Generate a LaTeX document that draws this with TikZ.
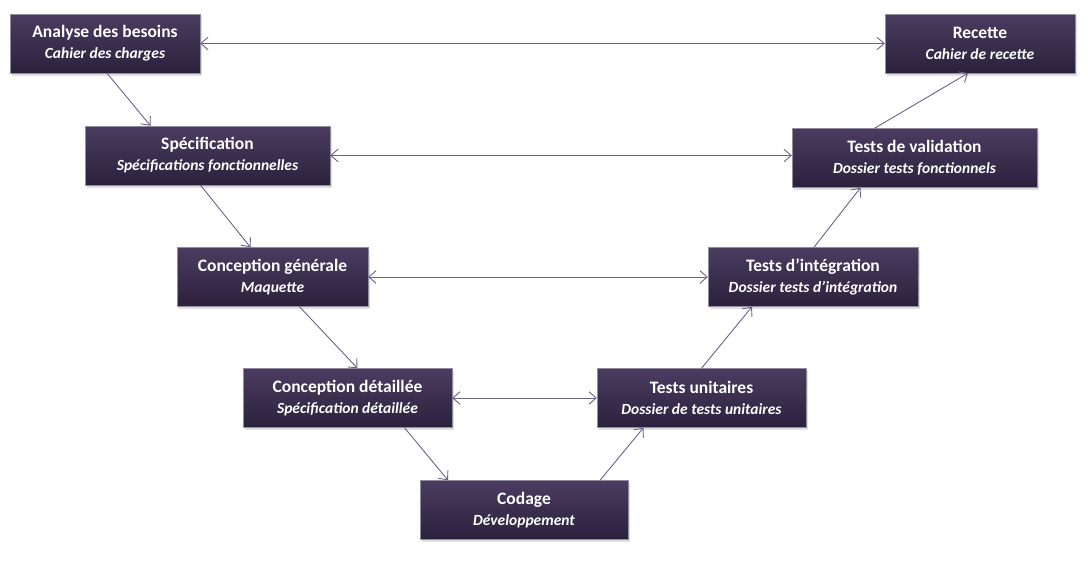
\documentclass[tikz,border=0pt]{standalone}
\usepackage{fontspec}
\setmainfont{Carlito}
\usetikzlibrary{arrows.meta,shadows}
\definecolor{plum}{HTML}{3A2D4E}
\definecolor{plumtop}{HTML}{4A3C60}
\definecolor{plumbot}{HTML}{2B213C}
\definecolor{wire}{HTML}{6B6288}

\newcommand{\phasedoc}[1]{{\fontsize{15.5}{18}\selectfont\bfseries\itshape #1}}

\begin{document}
\begin{tikzpicture}[
  x=1pt,y=-1pt,
  >={Straight Barb[length=2.5mm,width=4.4mm]},
  every node/.style={font=\fontsize{17.5}{21}\selectfont\bfseries,align=center,text=white},
  phase/.style={top color=plumtop,bottom color=plumbot,draw=plum!55!white,thin,minimum height=59pt,inner sep=3pt,drop shadow={shadow xshift=1.5pt,shadow yshift=-2.5pt,opacity=0.25}},
  link/.style={->,line width=0.9pt,wire}
]
  \useasboundingbox (0,0) rectangle (1088,562);

  % Left branch of the V: from needs down to coding.
  \node[phase,minimum width=190pt] (besoins) at (105,43.5) {Analyse des besoins\\\phasedoc{Cahier des charges}};
  \node[phase,minimum width=245pt] (specif) at (207.5,155.5) {Spécification\\\phasedoc{Spécifications fonctionnelles}};
  \node[phase,minimum width=191pt] (congen) at (272.5,277) {Conception générale\\\phasedoc{Maquette}};
  \node[phase,minimum width=209pt] (condet) at (347.5,398) {Conception détaillée\\\phasedoc{Spécification détaillée}};
  \node[phase,minimum width=208pt] (codage) at (524,510) {Codage\\\phasedoc{Développement}};

  % Right branch of the V: tests back up to acceptance.
  \node[phase,minimum width=209pt] (unit) at (701.5,398) {Tests unitaires\\\phasedoc{Dossier de tests unitaires}};
  \node[phase,minimum width=210pt] (integ) at (813,277) {Tests d’intégration\\\phasedoc{Dossier tests d’intégration}};
  \node[phase,minimum width=245pt] (valid) at (914.5,158) {Tests de validation\\\phasedoc{Dossier tests fonctionnels}};
  \node[phase,minimum width=190pt] (recette) at (980,43.5) {Recette\\\phasedoc{Cahier de recette}};

  % Descending and ascending links.
  \draw[link] ([xshift=2pt]besoins.south) -- ([xshift=-57pt]specif.north);
  \draw[link] ([xshift=-7pt]specif.south) -- ([xshift=-22pt]congen.north);
  \draw[link] ([xshift=27pt]congen.south) -- ([xshift=10pt]condet.north);
  \draw[link] ([xshift=57pt]condet.south) -- ([xshift=-76pt]codage.north);
  \draw[link] ([xshift=76pt]codage.north) -- ([xshift=-58pt]unit.south);
  \draw[link] (unit.north) -- ([xshift=-61pt]integ.south);
  \draw[link] ([xshift=1pt]integ.north) -- ([xshift=-54pt]valid.south);
  \draw[link] ([xshift=-40pt]valid.north) -- ([xshift=-12pt]recette.south);

  % Each level is matched with its test level.
  \draw[link,<->] (besoins) -- (recette);
  \draw[link,<->] (specif) -- (specif -| valid.west);
  \draw[link,<->] (congen) -- (integ);
  \draw[link,<->] (condet) -- (unit);
\end{tikzpicture}
\end{document}
